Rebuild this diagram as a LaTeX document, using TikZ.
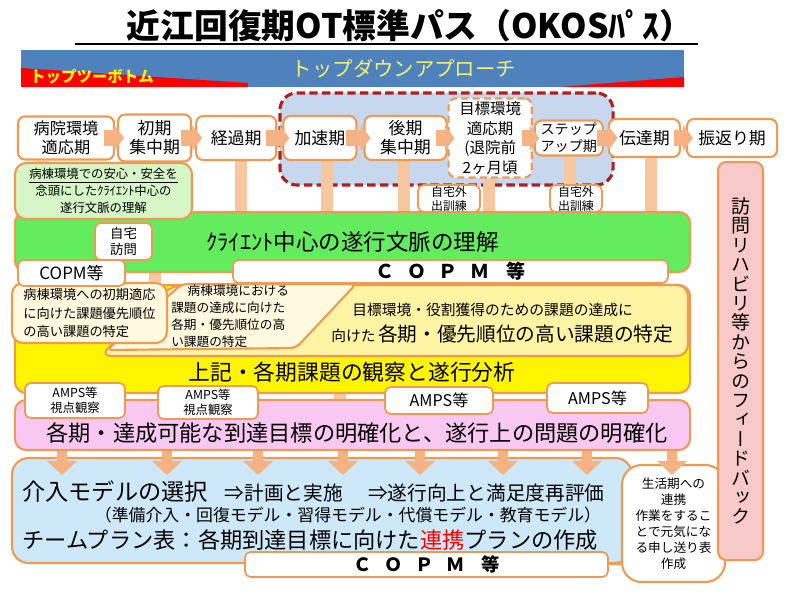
\documentclass[tikz,border=0pt]{standalone}
\usepackage{fontspec}
\setmainfont{Noto Sans CJK JP}
\newfontfamily\tatefont{Noto Sans CJK JP}[RawFeature=+vert]
\usetikzlibrary{positioning,arrows.meta,backgrounds}

\definecolor{ora}{HTML}{EE9A52}
\definecolor{flowora}{HTML}{F6B283}
\definecolor{barora}{HTML}{F7C7A0}
\definecolor{bandblue}{HTML}{4F81BD}
\definecolor{tdyellow}{HTML}{F2F56A}
\definecolor{dashred}{HTML}{B01E1E}
\definecolor{dashfill}{HTML}{C6D7EE}
\definecolor{lightgreen}{HTML}{D7F6C8}
\definecolor{ctxgreen}{HTML}{63EC5E}
\definecolor{obsyellow}{HTML}{FFF500}
\definecolor{creamyel}{HTML}{FFF4A3}
\definecolor{paleyel}{HTML}{FFFADF}
\definecolor{goalpink}{HTML}{F8C8F2}
\definecolor{planblue}{HTML}{CDE8F8}
\definecolor{fbpink}{HTML}{F9C9C9}

\begin{document}
\begin{tikzpicture}[x=0.025cm,y=-0.025cm,node distance=2pt,
  phase/.style={draw=ora,line width=1.5pt,fill=white,rounded corners=5pt,align=center,inner sep=0pt,font=\fontsize{12}{13.5}\selectfont},
  tag/.style={draw=ora,line width=1.2pt,fill=white,rounded corners=4pt,align=center,inner sep=0pt,font=\fontsize{8.5}{10}\selectfont},
  band/.style={draw=ora,line width=1.5pt,rounded corners=8pt,inner sep=0pt,minimum width=16.875cm},
  copm/.style={tag,font=\fontsize{13.5}{15}\selectfont\bfseries},
  bar/.style={barora,line width=8.5pt},
  flow/.style={flowora,line width=11pt,-{Triangle[width=18pt,length=7pt]}},
  downflow/.style={flowora,line width=7pt,-{Triangle[width=21pt,length=10pt]}}]

  \useasboundingbox (0,0) rectangle (800,600);

  \node[font=\fontsize{24}{28}\selectfont\bfseries] (title) at (410,26) {近江回復期OT標準パス（OKOSﾊﾟｽ）};
  \coordinate (ulstart) at (75,44);
  \draw[line width=1.5pt] (ulstart) -- (ulstart -| title.east);

  \fill[bandblue] (21,50) rectangle (684,87);
  \fill[red] (21,68) -- (248,83) -- (248,87) -- (21,87) -- cycle;
  \fill[red] (560,87) -- (684,77) -- (684,87) -- cycle;
  \node[text=yellow,font=\fontsize{11}{12}\selectfont\bfseries] (bottomup) at (92,77) {トップツーボトム};
  \node[text=tdyellow,font=\fontsize{14.5}{16}\selectfont] (topdown) at (404,69) {トップダウンアプローチ};

  \node[phase,minimum width=2.4cm,minimum height=1.075cm,font=\fontsize{11.5}{13.5}\selectfont] (p1) at (66,138) {病院環境\\適応期};
  \node[phase,minimum width=1.825cm,minimum height=1.175cm,right=1.4pt of p1] (p2) {初期\\集中期};
  \node[phase,minimum width=2cm,minimum height=1.1cm,right=2.1pt of p2] (p3) {経過期};
  \node[phase,minimum width=1.825cm,minimum height=1.1cm,right=3.6pt of p3] (p4) {加速期};
  \node[phase,minimum width=2.05cm,minimum height=1.1cm,right=4.3pt of p4] (p5) {後期\\集中期};
  \node[phase,dash pattern=on 5pt off 3pt,minimum width=2.075cm,minimum height=1.975cm,right=0pt of p5,font=\fontsize{11}{14}\selectfont] (p6) {目標環境\\適応期\\(退院前\\2ヶ月頃};
  \node[phase,minimum width=1.7cm,minimum height=0.875cm,right=0.7pt of p6,font=\fontsize{10}{12}\selectfont] (p7) {ステップ\\アップ期};
  \node[phase,minimum width=1.775cm,minimum height=0.95cm,right=2.8pt of p7] (p8) {伝達期};
  \node[phase,minimum width=2.25cm,minimum height=0.95cm,right=3.6pt of p8] (p9) {振返り期};

  \node[band,fill=ctxgreen,minimum height=1.5cm,font=\fontsize{16}{18}\selectfont] (ctx) at (352.5,242) {ｸﾗｲｴﾝﾄ中心の遂行文脈の理解};
  \node[band,fill=obsyellow,minimum height=2.7cm] (obs) at (352.5,339) {};
  \node[font=\fontsize{15.5}{17}\selectfont] (obstext) at (352,372) {上記・各期課題の観察と遂行分析};

  \draw[draw=ora,line width=1.5pt,fill=creamyel,rounded corners=8pt] (100,356) -- (172,285) -- (688,285) -- (688,356) -- cycle;
  \draw[draw=ora,line width=1.5pt,fill=paleyel,rounded corners=4pt] (107,350) -- (182,284) -- (356,284) -- (296,348) -- cycle;
  \node[anchor=west,align=left,inner sep=0pt,font=\fontsize{9}{12}\selectfont] (midtext) at (171,316) {\hspace*{1.3em}病棟環境における\\課題の達成に向けた\\各期・優先順位の高\\い課題の特定};
  \node[anchor=west,inner sep=0pt,font=\fontsize{10.5}{12}\selectfont] (prio1) at (352,310) {目標環境・役割獲得のための課題の達成に};
  \node[anchor=west,inner sep=0pt,font=\fontsize{10.5}{12}\selectfont] (prio2) at (331,334) {向けた\,{\fontsize{14}{16}\selectfont 各期・優先順位の高い課題の特定}};
  \node[draw=ora,line width=1.5pt,fill=paleyel,rounded corners=8pt,minimum width=3.875cm,minimum height=1.5cm,align=left,inner sep=0pt,font=\fontsize{9.4}{13}\selectfont] (initial) at (89.5,313) {病棟環境への初期適応\\に向けた課題優先順位\\の高い課題の特定};

  \node[tag,minimum width=2.675cm,minimum height=0.65cm,font=\fontsize{12}{14}\selectfont] (copm1) at (71.5,273) {COPM等};
  \node[copm,minimum width=10.875cm,minimum height=0.575cm] (copm2) at (450.5,271.5) {Ｃ\hspace{9pt}Ｏ\hspace{9pt}Ｐ\hspace{9pt}Ｍ\hspace{12pt}等};
  \node[tag,minimum width=1.425cm,minimum height=0.925cm,font=\fontsize{9.5}{11.5}\selectfont] (home) at (123.5,241.5) {自宅\\訪問};
  \node[draw=ora,line width=1.5pt,fill=lightgreen,rounded corners=8pt,minimum width=4.425cm,minimum height=1.4cm,align=center,inner sep=0pt,font=\fontsize{8.8}{12}\selectfont] (safety) at (103.5,191) {\underline{病棟環境での安心・安全を}\\念頭にしたｸﾗｲｴﾝﾄ中心の\\遂行文脈の理解};
  \node[tag,minimum width=1.55cm,minimum height=0.675cm] (out1) at (449,198.5) {自宅外\\出訓練};
  \node[tag,minimum width=1.3cm,minimum height=0.675cm] (out2) at (576,198.5) {自宅外\\出訓練};

  \node[band,fill=goalpink,minimum height=1.25cm] (goal) at (352.5,425) {};
  \node[font=\fontsize{15.8}{17}\selectfont] (goaltext) at (357,433) {各期・達成可能な到達目標の明確化と、遂行上の問題の明確化};
  \node[tag,minimum width=2.5cm,minimum height=0.875cm,font=\fontsize{8.8}{11}\selectfont] (amps1) at (75,400.5) {AMPS等\\視点観察};
  \node[tag,minimum width=2.5cm,minimum height=0.825cm,font=\fontsize{8.8}{11}\selectfont] (amps2) at (208,402.5) {AMPS等\\視点観察};
  \node[tag,minimum width=2.7cm,minimum height=0.675cm,font=\fontsize{11.5}{13}\selectfont] (amps3) at (439,400.5) {AMPS等};
  \node[tag,minimum width=2.525cm,minimum height=0.75cm,font=\fontsize{11.5}{13}\selectfont] (amps4) at (597.5,398) {AMPS等};

  \node[draw=ora,line width=1.5pt,fill=planblue,rounded corners=12pt,minimum width=15.5cm,minimum height=2.625cm,inner sep=0pt] (plan) at (322,510.5) {};
  \node[anchor=west,inner sep=0pt] (plan1) at (22,492) {{\fontsize{16.5}{18}\selectfont 介入モデルの選択}\hspace{12pt}{\fontsize{14}{16}\selectfont ⇒計画と実施\hspace{18pt}⇒遂行向上と満足度再評価}};
  \node[font=\fontsize{12}{14}\selectfont] (plan2) at (348,515) {（準備介入・回復モデル・習得モデル・代償モデル・教育モデル）};
  \node[anchor=west,inner sep=0pt,font=\fontsize{15.8}{18}\selectfont] (plan3) at (22,540) {チームプラン表：各期到達目標に向けた\textcolor{red}{連携}プランの作成};
  \node[draw=ora,line width=1.5pt,fill=white,rounded corners=14pt,minimum width=2.575cm,minimum height=2.925cm,align=center,inner sep=0pt,font=\fontsize{9}{11.3}\selectfont] (life) at (673.5,523.5) {生活期への\\連携\\作業をするこ\\とで元気にな\\る申し送り表\\作成};
  \node[copm,minimum width=9.075cm,minimum height=0.625cm,font=\fontsize{13}{15}\selectfont\bfseries] (copm3) at (426.5,564.5) {Ｃ\hspace{9pt}Ｏ\hspace{9pt}Ｐ\hspace{9pt}Ｍ\hspace{12pt}等};
  \draw[ora,line width=1.2pt] (copm3.east) -- (copm3.east -| life.west);

  \node[draw=ora,line width=1.5pt,fill=fbpink,rounded corners=6pt,minimum width=1.125cm,minimum height=9.95cm,align=center,inner sep=0pt,font=\tatefont\fontsize{13.5}{13.8}\selectfont] (feedback) at (740.5,361) {訪\\問\\リ\\ハ\\ビ\\リ\\等\\か\\ら\\の\\フ\\ィ\\ー\\ド\\バ\\ッ\\ク};

  \draw[flow] ([xshift=-8pt]p1.east) -- ([xshift=5pt]p2.west);
  \draw[flow] ([xshift=-8pt]p2.east) -- ([xshift=5pt]p3.west);
  \draw[flow] ([xshift=-8pt]p3.east) -- ([xshift=5pt]p4.west);
  \draw[flow] ([xshift=-8pt]p4.east) -- ([xshift=5pt]p5.west);
  \draw[flow] ([xshift=-8pt]p5.east) -- ([xshift=5pt]p6.west);
  \draw[flow] ([xshift=-8pt]p6.east) -- ([xshift=4pt]p7.west);
  \draw[flow] ([xshift=-5pt]p7.east) -- ([xshift=7pt]p8.west);
  \draw[flow] ([xshift=-5pt]p8.east) -- ([xshift=5pt]p9.west);

  \foreach \x in {62,167,258,343,420,503,587,672}
    \draw[downflow] (goal.south -| \x,0) -- ([yshift=-0.45cm]plan.north -| \x,0);

  \begin{scope}[on background layer]
    \fill[white] (0,0) rectangle (800,600);
    \node[draw=dashred,line width=2.2pt,dash pattern=on 6pt off 3pt,fill=dashfill,rounded corners=12pt,minimum width=8.325cm,minimum height=2.3cm] (accel) at (446.5,139) {};
    \draw[bar] (p1.south -| 41,0) -- (safety.north -| 41,0);
    \draw[bar] (p2.south -| 144,0) -- (safety.north -| 144,0);
    \draw[bar] (p3.south -| 241,0) -- (ctx.north -| 241,0);
    \draw[bar] (p4.south -| 327,0) -- (ctx.north -| 327,0);
    \draw[bar] (p5.south -| 404,0) -- (ctx.north -| 404,0);
    \draw[bar] (p6.south -| 489,0) -- (ctx.north -| 489,0);
    \draw[bar] (p7.south -| 570,0) -- (ctx.north -| 570,0);
    \draw[bar] (p8.south -| 651,0) -- (ctx.north -| 651,0);
    \draw[bar] (ctx.south -| 155,0) -- (obs.north -| 155,0);
    \draw[bar] (obs.south -| 340,0) -- (goal.north -| 340,0);
  \end{scope}
\end{tikzpicture}
\end{document}
